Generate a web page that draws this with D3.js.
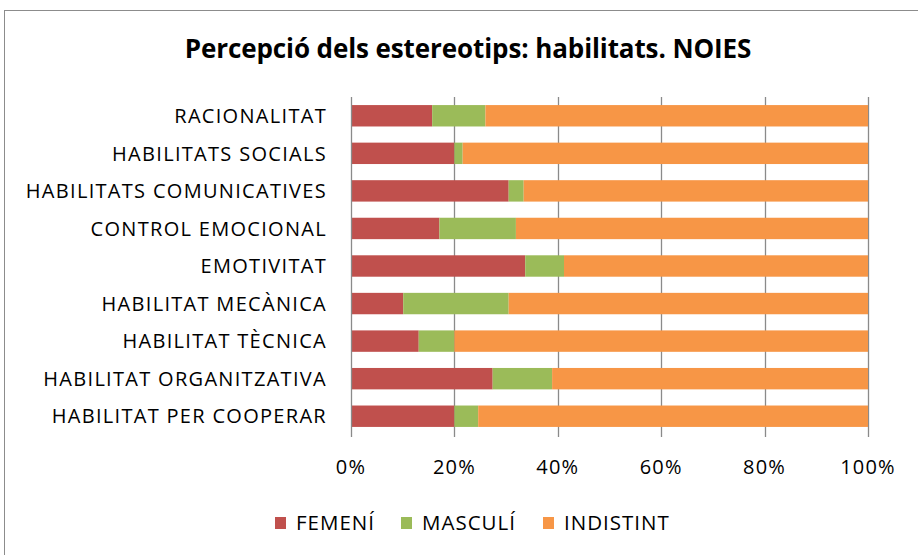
<!DOCTYPE html>
<html>
<head>
<meta charset="utf-8">
<script src="https://cdn.jsdelivr.net/npm/d3@7"></script>
<style>
  html, body { margin: 0; padding: 0; background: #fff; }
  svg { display: block; }
  text { font-family: "Open Sans", sans-serif; fill: #000; }
</style>
</head>
<body>
<svg id="chart" width="918" height="555"></svg>
<script>
const categories = [
  "RACIONALITAT",
  "HABILITATS SOCIALS",
  "HABILITATS COMUNICATIVES",
  "CONTROL EMOCIONAL",
  "EMOTIVITAT",
  "HABILITAT MECÀNICA",
  "HABILITAT TÈCNICA",
  "HABILITAT ORGANITZATIVA",
  "HABILITAT PER COOPERAR"
];
const femeni    = [15.7, 20.0, 30.5, 17.1, 33.7, 10.1, 13.1, 27.4, 20.0];
const masculi   = [10.3,  1.6,  2.9, 14.8,  7.5, 20.4,  6.9, 11.5,  4.6];
const indistint = [74.0, 78.4, 66.6, 68.1, 58.8, 69.5, 80.0, 61.1, 75.4];
const seriesNames = ["FEMENÍ", "MASCULÍ", "INDISTINT"];
const seriesColors = ["#C0504D", "#9BBB59", "#F79646"];
const tickValues = [0, 20, 40, 60, 80, 100];
const title = "Percepció dels estereotips: habilitats. NOIES";

const svg = d3.select("#chart");

// outer chart border
svg.append("rect")
  .attr("x", 4.5).attr("y", 10.5)
  .attr("width", 1000).attr("height", 1000)
  .attr("fill", "none").attr("stroke", "#8c8c8c").attr("stroke-width", 1);

const plotLeft = 351, plotRight = 868, plotTop = 97, plotBottom = 435;

const x = d3.scaleLinear().domain([0, 100]).range([plotLeft, plotRight]);
const y = d3.scaleBand().domain(categories).range([plotTop, plotBottom])
  .paddingInner(0.43).paddingOuter(0.215);

// table
const rows = categories.map((c, i) => ({
  cat: c, "FEMENÍ": femeni[i], "MASCULÍ": masculi[i], "INDISTINT": indistint[i]
}));
const stack = d3.stack().keys(seriesNames)(rows);

// gridlines (including tick marks below)
svg.append("g")
  .selectAll("line")
  .data(tickValues.slice(1))
  .join("line")
  .attr("x1", d => Math.round(x(d)) + 0.5)
  .attr("x2", d => Math.round(x(d)) + 0.5)
  .attr("y1", plotTop).attr("y2", plotBottom + 2)
  .attr("stroke", "#8a8a8a").attr("stroke-width", 1.3);

// bars
const color = d3.scaleOrdinal().domain(seriesNames).range(seriesColors);
svg.append("g")
  .selectAll("g")
  .data(stack)
  .join("g")
  .attr("fill", d => color(d.key))
  .selectAll("rect")
  .data(d => d)
  .join("rect")
  .attr("x", d => x(d[0]))
  .attr("width", d => x(d[1]) - x(d[0]))
  .attr("y", d => y(d.data.cat))
  .attr("height", y.bandwidth());

// left axis line
svg.append("line")
  .attr("x1", plotLeft + 0.5).attr("x2", plotLeft + 0.5)
  .attr("y1", plotTop).attr("y2", plotBottom + 2)
  .attr("stroke", "#8a8a8a").attr("stroke-width", 1.3);

// category labels
svg.append("g")
  .selectAll("text")
  .data(categories)
  .join("text")
  .attr("x", 327)
  .attr("y", d => y(d) + y.bandwidth() / 2)
  .attr("dy", "0.36em")
  .attr("text-anchor", "end")
  .style("font-size", "20px")
  .style("letter-spacing", "1.3px")
  .text(d => d);

// value tick labels
svg.append("g")
  .selectAll("text")
  .data(tickValues)
  .join("text")
  .attr("x", d => x(d))
  .attr("y", 474)
  .attr("text-anchor", "middle")
  .style("font-size", "20px")
  .style("letter-spacing", "1.2px")
  .text(d => d + "%");

// title
svg.append("text")
  .attr("x", 468).attr("y", 58)
  .attr("text-anchor", "middle")
  .style("font-size", "26px")
  .style("font-weight", "bold")
  .style("letter-spacing", "-0.1px")
  .text(title);

// legend
const legendX = [275, 401, 543];
const lg = svg.append("g")
  .selectAll("g")
  .data(seriesNames)
  .join("g")
  .attr("transform", (d, i) => `translate(${legendX[i]},517)`);
lg.append("rect")
  .attr("width", 11).attr("height", 12)
  .attr("fill", d => color(d));
lg.append("text")
  .attr("x", 21).attr("y", 6)
  .attr("dy", "0.36em")
  .style("font-size", "20.5px")
  .style("letter-spacing", "1px")
  .text(d => d);
</script>
</body>
</html>
